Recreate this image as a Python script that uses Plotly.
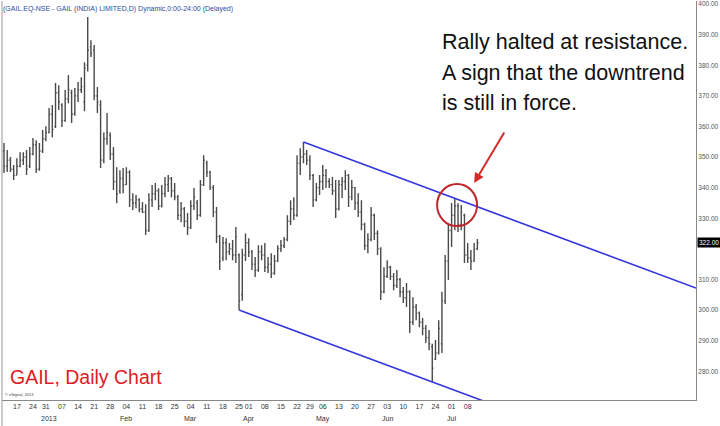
import pandas as pd
import plotly.graph_objects as go

# ---- data -------------------------------------------------------------
start_date = "2012-12-11"
holidays = ["2012-12-25", "2013-03-27", "2013-03-29", "2013-04-24", "2013-05-01"]

opens = [352, 347, 349, 346, 344, 347, 349, 350, 347, 351, 354, 346, 352, 356, 358, 364, 360, 371, 367, 362,
         369, 371, 364, 370, 372, 368, 380, 386, 385, 370, 367, 349, 356, 357, 351, 342, 339, 343, 341, 345,
         336, 335, 336, 333, 332, 326, 336, 338, 339, 334, 338, 341, 343, 339, 337, 331, 333, 329, 327, 334,
         335, 331, 341, 348, 345, 340, 332, 324, 317, 322, 319, 320, 318, 318, 305, 318, 322, 319, 315, 313,
         319, 318, 314, 315, 312, 316, 320, 321, 323, 329, 333, 331, 348, 350, 351, 349, 344, 336, 340, 342,
         344, 342, 341, 339, 333, 341, 342, 344, 337, 340, 335, 332, 328, 321, 323, 331, 325, 320, 306, 311,
         314, 311, 308, 310, 306, 304, 306, 296, 301, 299, 296, 294, 291, 288, 284, 286, 289, 303, 316, 326,
         331, 334, 328, 331, 318, 317, 316, 320]
highs = [354.6, 352.3, 350.0, 347.4, 349.6, 351.6, 351.6, 352.3, 353.3, 356.2, 355.5, 354.6, 358.8, 360.1, 366.0, 367.0, 374.2, 373.5, 367.6, 371.9,
         376.8, 372.0, 372.6, 374.5, 376.1, 381.0, 395.8, 388.2, 386.6, 372.9, 368.6, 358.0, 364.4, 358.0, 353.3, 346.7, 345.7, 346.4, 346.7, 345.7,
         338.2, 337.6, 336.5, 335.3, 334.6, 338.2, 340.9, 341.5, 339.8, 340.9, 343.5, 344.1, 343.5, 341.5, 337.6, 335.3, 333.7, 331.7, 335.9, 339.9,
         336.0, 342.5, 350.6, 348.8, 345.5, 340.9, 333.7, 324.5, 323.9, 323.5, 321.9, 322.9, 327.1, 318.5, 320.0, 325.0, 323.5, 319.6, 317.3, 321.2,
         321.2, 321.9, 317.3, 318.6, 318.0, 321.2, 322.9, 323.9, 331.0, 335.9, 336.9, 350.6, 352.9, 354.9, 352.3, 350.6, 344.5, 341.5, 344.1, 347.4,
         346.1, 343.1, 343.5, 342.5, 342.5, 343.5, 345.7, 344.5, 342.5, 340.2, 338.2, 335.9, 328.5, 325.1, 333.7, 331.5, 326.1, 320.5, 314.0, 316.3,
         314.5, 312.1, 313.1, 310.5, 307.5, 308.8, 306.5, 304.2, 302.0, 299.5, 297.4, 295.1, 293.5, 289.0, 290.2, 296.7, 306.0, 318.0, 328.4, 335.0,
         336.5, 334.9, 334.3, 331.5, 321.9, 319.6, 321.9, 323.2]
lows = [344.8, 345.1, 345.1, 342.5, 344.1, 346.7, 347.4, 344.1, 346.4, 350.6, 344.8, 345.5, 351.3, 355.2, 357.8, 356.5, 359.5, 365.4, 359.8, 361.5,
        367.6, 361.1, 363.5, 368.0, 370.9, 365.0, 378.0, 382.7, 368.6, 364.4, 346.4, 348.0, 354.0, 349.0, 339.2, 334.9, 338.0, 338.2, 340.9, 333.7,
        332.7, 333.3, 332.0, 331.7, 324.5, 325.5, 333.7, 335.9, 332.7, 333.5, 336.9, 338.6, 336.9, 335.9, 329.4, 328.7, 327.1, 324.5, 326.5, 332.7,
        329.4, 330.5, 340.5, 343.5, 339.2, 330.4, 321.9, 313.1, 316.0, 316.3, 318.0, 316.3, 315.4, 300.0, 303.0, 316.0, 317.3, 313.1, 310.8, 312.5,
        316.3, 312.4, 312.1, 310.5, 311.5, 315.7, 319.0, 320.3, 322.5, 327.8, 329.4, 330.5, 344.1, 348.0, 347.4, 342.5, 333.7, 335.5, 337.6, 339.2,
        339.9, 339.9, 337.6, 330.1, 332.5, 336.6, 339.2, 333.7, 335.9, 332.7, 330.4, 326.1, 319.6, 318.6, 322.5, 322.9, 318.0, 303.3, 305.5, 310.5,
        309.8, 306.5, 307.2, 304.2, 302.3, 301.0, 292.5, 295.1, 296.7, 294.4, 291.8, 289.2, 286.9, 276.5, 283.7, 285.5, 286.0, 302.0, 309.8, 320.6,
        326.1, 325.5, 326.1, 315.4, 315.4, 313.1, 315.8, 319.6]
closes = [347, 349, 346, 344, 347, 349, 350, 346, 351, 354, 346, 352, 356, 358, 364, 359, 371, 368, 362, 369,
          372, 364, 370, 372, 373, 379, 385, 384, 370, 368, 349, 356, 358, 351, 342, 338, 343, 341, 345, 336,
          335, 336, 333, 332, 326, 336, 338, 339, 334, 338, 341, 343, 339, 337, 331, 333, 329, 327, 334, 337,
          331, 341, 349, 345, 340, 332, 324, 316, 322, 319, 320, 318, 324, 303, 318, 322, 319, 315, 313, 319,
          318, 314, 315, 312, 316, 320, 321, 323, 329, 333, 331, 348, 350, 351, 349, 344, 336, 340, 342, 344,
          342, 341, 339, 333, 341, 342, 344, 337, 340, 335, 332, 328, 321, 323, 331, 325, 320, 306, 311, 314,
          311, 308, 310, 306, 304, 306, 296, 301, 299, 296, 294, 291, 289, 281, 286, 294, 303, 316, 326, 331,
          334, 328, 332, 318, 317, 316, 320, 322]

y_tick_values = [280, 290, 300, 310, 330, 340, 350, 360, 370, 380, 390, 400]
last_price_label = "322.00"
month_labels = {"2013-01-01": "2013", "2013-02-04": "Feb", "2013-03-04": "Mar", "2013-04-01": "Apr",
                "2013-05-06": "May", "2013-06-03": "Jun", "2013-07-01": "Jul"}
note_lines = ["Rally halted at resistance.", "A sign that the downtrend", "is still in force."]

# trendline anchor bars (indices)
upper_a, upper_b = 93, 140
lower_a, lower_b = 73, 133

# ---- derived ---------------------------------------------------------
n = len(closes)
days = pd.bdate_range(start_date, periods=n + 20)
days = [d for d in days if d.strftime("%Y-%m-%d") not in holidays][:n]
idx = list(range(n))

tickvals = [i for i, d in enumerate(days) if d.weekday() == 0]
ticktext = [days[i].strftime("%d") for i in tickvals]

xmin, xmax = -0.62, 214.9

fig = go.Figure()
fig.add_trace(go.Ohlc(
    x=idx, open=opens, high=highs, low=lows, close=closes,
    increasing=dict(line=dict(color="#4a4a4a", width=1.4)),
    decreasing=dict(line=dict(color="#4a4a4a", width=1.4)),
    tickwidth=0.35, showlegend=False, hoverinfo="skip"))

# resistance and support lines through the swing points
su = (highs[upper_b] - highs[upper_a]) / (upper_b - upper_a)
fig.add_trace(go.Scatter(x=[upper_a, xmax], y=[highs[upper_a], highs[upper_a] + su * (xmax - upper_a)],
                         mode="lines", line=dict(color="#3535e0", width=1.6), showlegend=False, hoverinfo="skip"))
sl = (lows[lower_b] - lows[lower_a]) / (lower_b - lower_a)
fig.add_trace(go.Scatter(x=[lower_a, xmax], y=[lows[lower_a], lows[lower_a] + sl * (xmax - lower_a)],
                         mode="lines", line=dict(color="#3535e0", width=1.6), showlegend=False, hoverinfo="skip"))

font_main = "Liberation Sans, Arial, sans-serif"

annotations = [
    dict(x=0, y=1, xref="paper", yref="paper", xanchor="left", yanchor="top", showarrow=False,
         text="(GAIL.EQ-NSE - GAIL (INDIA) LIMITED,D) Dynamic,0:00-24:00 (Delayed)",
         font=dict(family=font_main, size=7, color="#2d4aa0"), xshift=-1, yshift=-2),
    dict(x=0.008, y=0.058, xref="paper", yref="paper", xanchor="left", yanchor="middle", showarrow=False,
         text="GAIL, Daily Chart", font=dict(family=font_main, size=19.5, color="#e01b24")),
    dict(x=0, y=0, xref="paper", yref="paper", xanchor="left", yanchor="bottom", showarrow=False,
         text="© eSignal, 2013", font=dict(family=font_main, size=4, color="#444"), xshift=1, yshift=1),
    dict(x=1, y=322, xref="paper", yref="y", xanchor="left", yanchor="middle", showarrow=False,
         text=last_price_label, font=dict(family=font_main, size=6.5, color="white"), bgcolor="black",
         borderpad=1, xshift=1),
    dict(x=146, y=341.5, xref="x", yref="y", text="", showarrow=True,
         ax=31, ay=-52, arrowcolor="#d42a2a", arrowwidth=2, arrowhead=2, arrowsize=1, standoff=0),
]
for k, (line_txt, py) in enumerate(zip(note_lines, [0.897, 0.820, 0.744])):
    annotations.append(dict(x=0.631, y=py, xref="paper", yref="paper", xanchor="left", yanchor="middle",
                            showarrow=False, text=line_txt,
                            font=dict(family=font_main, size=21.5, color="#111111")))
for d, lab in month_labels.items():
    i = [k for k, dd in enumerate(days) if dd.strftime("%Y-%m-%d") == d][0]
    annotations.append(dict(x=i, y=0, xref="x", yref="paper", yanchor="top", showarrow=False, text=lab,
                            font=dict(family=font_main, size=7, color="#333"), yshift=-13))

shapes = [
    dict(type="circle", xref="x", yref="y", xsizemode="pixel", ysizemode="pixel",
         xanchor=140.7, yanchor=334.3, x0=-20, x1=20, y0=-21, y1=21,
         line=dict(color="#c0262b", width=2)),
    dict(type="line", xref="paper", yref="paper", x0=0, x1=0, y0=-0.07, y1=1, line=dict(color="#999", width=1)),
]

fig.update_layout(
    width=720, height=426, margin=dict(l=2, r=24, t=1, b=26, autoexpand=False),
    paper_bgcolor="white", plot_bgcolor="white",
    annotations=annotations, shapes=shapes,
    xaxis=dict(range=[xmin, xmax], rangeslider=dict(visible=False), tickvals=tickvals, ticktext=ticktext,
               tickangle=0, automargin=False,
               tickfont=dict(family=font_main, size=7, color="#333"), showgrid=False, zeroline=False,
               showline=True, linecolor="#888", linewidth=1, ticks="", ticklen=0),
    yaxis=dict(range=[270.6, 401.0], side="right", tickvals=y_tick_values, tickformat=".2f", automargin=False,
               tickfont=dict(family=font_main, size=6.5, color="#555"), showgrid=False, zeroline=False,
               showline=True, linecolor="#888", linewidth=1, ticks=""),
)

fig.write_html("out.html", config={"displayModeBar": False},
               post_script="document.body.style.margin='0';document.body.style.overflow='hidden';")
